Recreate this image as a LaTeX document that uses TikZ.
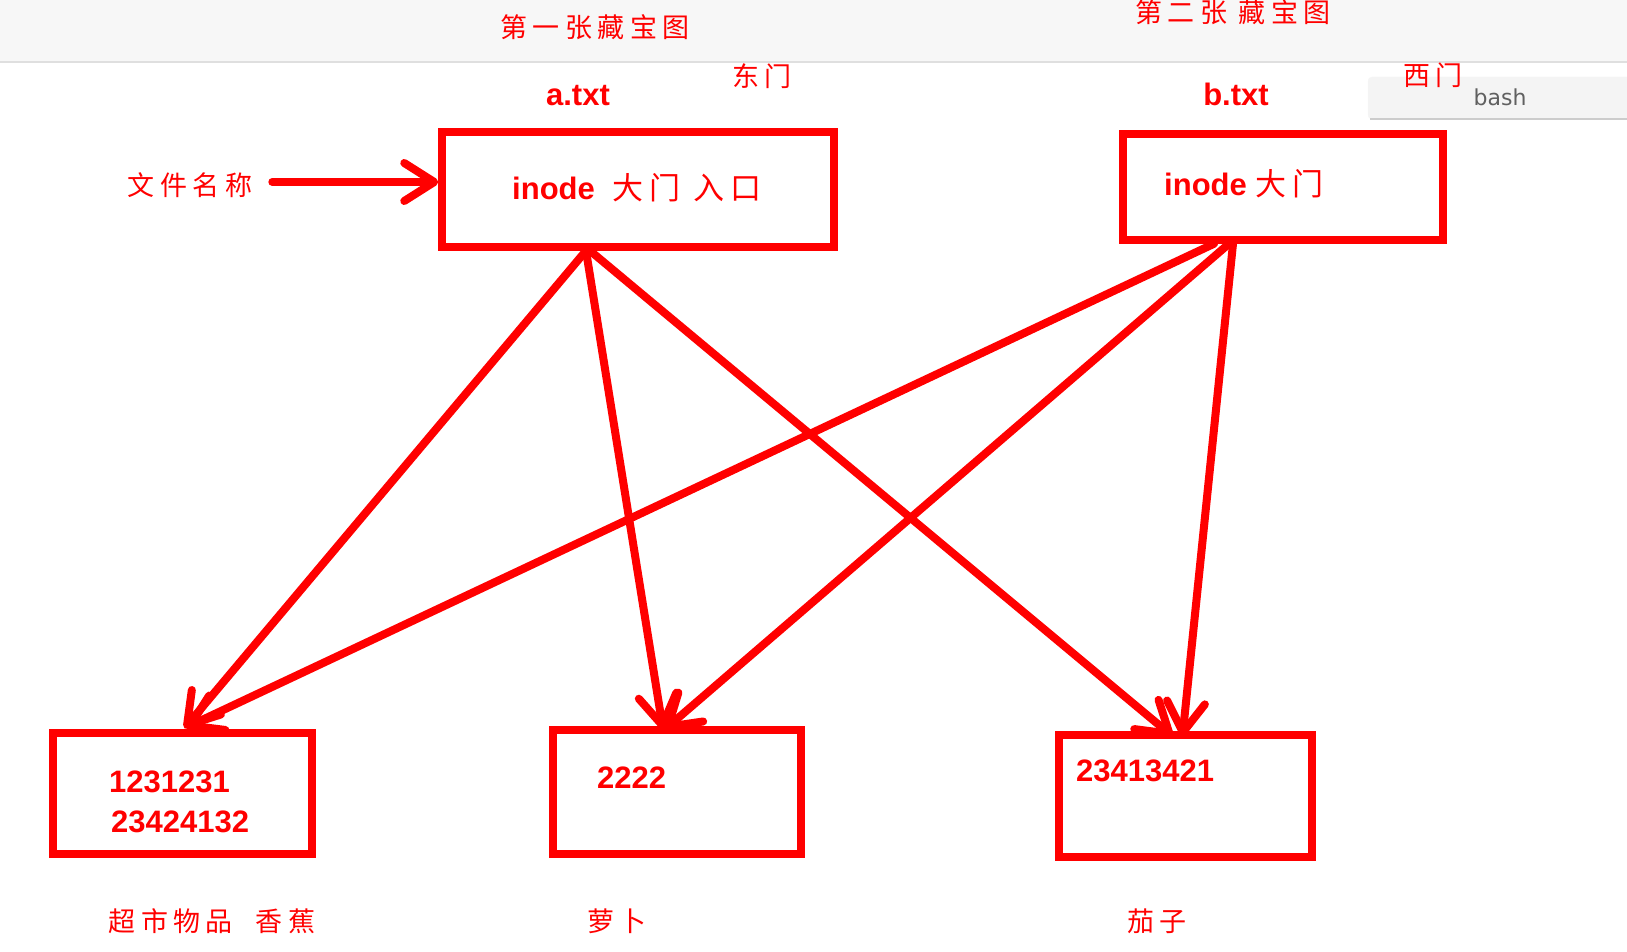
\documentclass[tikz,border=0pt]{standalone}
\usepackage{fontspec}
\setmainfont{Liberation Sans}
\newfontfamily\cjk[LetterSpace=20]{Noto Sans CJK SC}
\newfontfamily\termfont{DejaVu Sans}
\usetikzlibrary{arrows.meta,positioning}
\definecolor{MapRed}{RGB}{255,0,0}
\definecolor{BarGray}{RGB}{247,247,247}
\definecolor{TabGray}{RGB}{244,244,244}

\begin{document}
\begin{tikzpicture}[x=1pt,y=-1pt,
        box/.style={draw=MapRed,line width=7.5pt,inner sep=0pt},
        num/.style={text=MapRed,font=\bfseries\fontsize{31}{40}\selectfont,
                    inner sep=0pt,align=left},
        cn/.style={text=MapRed,font=\cjk\fontsize{27}{32}\selectfont,inner sep=0pt},
        arr/.style={-{Straight Barb[length=30pt,width=38pt,round]},
                    MapRed,line width=8pt,line cap=round}
      ]
        \useasboundingbox (0,0) rectangle (1627,952);
        % window bar and tab
        \fill[BarGray] (0,0) rectangle (1627,62);
        \draw[gray!25,line width=1.5pt] (0,62) -- (1627,62);
        \draw[TabGray,fill=TabGray,rounded corners=4pt] (1368,77) rectangle (1650,119);
        \draw[gray!40,line width=1.5pt] (1370,119) -- (1627,119);
        \node[text=gray!75!black,font=\termfont\fontsize{22}{26}\selectfont] (tab) at (1500,97) {bash};
        % titles
        \node[cn] (map1) at (595,27) {第一张藏宝图};
        \node[cn] (map2) at (1233,12) {第二张 藏宝图};
        \node[cn] (east) at (762,76) {东门};
        \node[cn] (west) at (1433,75) {西门};
        \node[num] (fa) at (578,96) {a.txt};
        \node[num] (fb) at (1236,94) {b.txt};
        % inode boxes
        \node[box,minimum width=392pt,minimum height=115pt] (boxA) at (638,189.5) {};
        \node[box,minimum width=320pt,minimum height=106pt] (boxB) at (1283,187) {};
        \node[num,anchor=west] (inA) at (512,188) {inode\ \ {\cjk\mdseries 大门 入口}};
        \node[num,anchor=west] (inB) at (1164,184) {inode {\cjk\mdseries 大门}};
        \node[cn] (fname) at (190,185) {文件名称};
        % data blocks
        \node[box,minimum width=259pt,minimum height=121pt] (boxC1) at (182.5,793.5) {};
        \node[box,minimum width=248pt,minimum height=124pt] (boxC2) at (677,792) {};
        \node[box,minimum width=253pt,minimum height=122pt] (boxC3) at (1185.5,796) {};
        \node[num,anchor=west] (d1) at (109,802) {1231231\\\hspace{2pt}23424132};
        \node[num,anchor=west] (d2) at (597,778) {2222};
        \node[num,anchor=west] (d3) at (1076,771) {23413421};
        \node[cn] (g1) at (212,921) {超市物品\ \ 香蕉};
        \node[cn] (g2) at (617,921) {萝卜};
        \node[cn] (g3) at (1157,921) {茄子};
        % pointers
        \draw[arr] ([xshift=20pt,yshift=3pt]fname.east) -- ([yshift=7.5pt]boxA.west);
        \draw[arr] ([xshift=-52pt]boxA.south) -- ([xshift=2pt,yshift=1pt]boxC1.north);
        \draw[arr] ([xshift=-52pt]boxA.south) -- ([xshift=-14pt,yshift=-3pt]boxC2.north);
        \draw[arr] ([xshift=-48pt]boxA.south) -- ([xshift=-13pt,yshift=-5pt]boxC3.north);
        \draw[arr] ([xshift=-69pt]boxB.south) -- ([xshift=4pt,yshift=2pt]boxC1.north);
        \draw[arr] ([xshift=-54pt]boxB.south) -- ([xshift=-12pt,yshift=-3pt]boxC2.north);
        \draw[arr] ([xshift=-50pt]boxB.south) -- ([xshift=-3pt,yshift=-5pt]boxC3.north);
      \end{tikzpicture}
\end{document}
